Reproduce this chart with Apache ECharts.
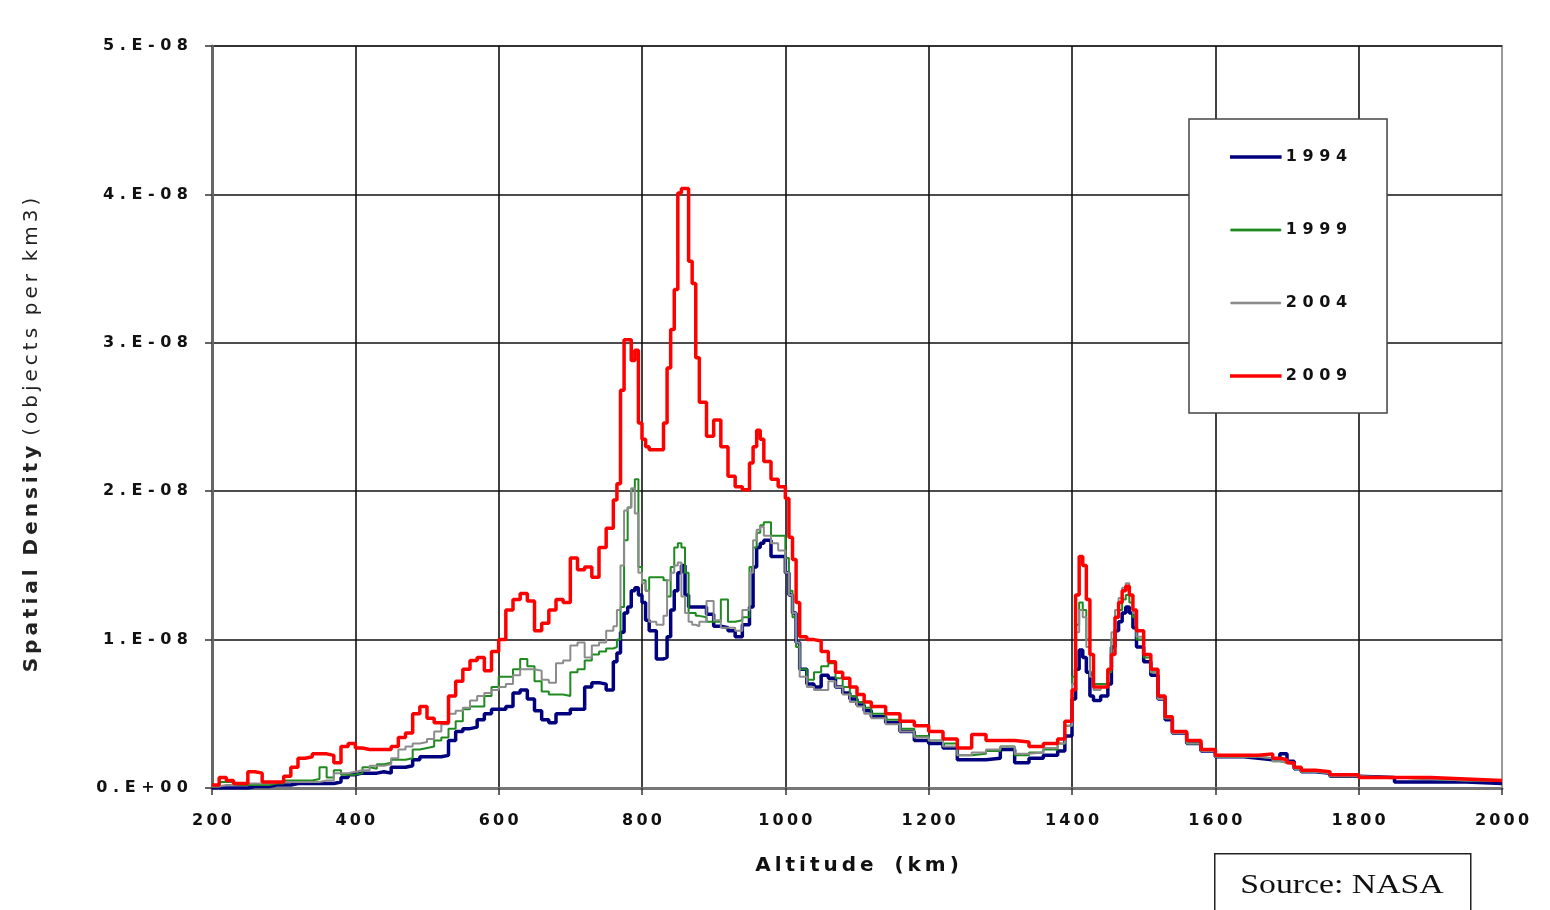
<!DOCTYPE html>
<html>
<head>
<meta charset="utf-8">
<script src="https://cdn.jsdelivr.net/npm/echarts@6/dist/echarts.min.js"></script>
<style>
  html, body { margin: 0; padding: 0; background: #fff; }
  #chart { width: 1550px; height: 910px; }
</style>
</head>
<body>
<div id="chart"></div>
<script>
// altitude (km), shared by all four series
var altitude = [200,210,220,230,240,250,260,270,280,290,
  300,310,320,330,340,350,360,370,380,390,
  400,410,420,430,440,450,460,470,480,490,
  500,510,520,530,540,550,560,570,580,590,
  600,610,620,630,640,650,660,670,680,690,
  700,710,720,730,740,750,760,765,770,775,
  780,785,790,795,800,805,810,820,830,835,
  840,845,850,855,860,865,870,875,880,890,
  900,910,920,930,940,950,955,960,965,970,
  980,990,1000,1005,1010,1015,1020,1030,1040,1050,
  1060,1070,1080,1090,1100,1110,1120,1140,1160,1180,
  1200,1220,1240,1260,1280,1300,1320,1340,1360,1380,
  1390,1400,1405,1410,1415,1420,1425,1430,1440,1450,
  1455,1460,1465,1470,1475,1480,1485,1490,1500,1510,
  1520,1530,1540,1560,1580,1600,1620,1640,1660,1680,
  1690,1700,1710,1720,1740,1760,1780,1800,1850,1900,
  1950,2000];

// spatial density, in units of 1E-08 objects per km3
var density1994 = [0,0,0,0,0,0.01,0.01,0.01,0.02,0.02,
  0.02,0.03,0.03,0.03,0.03,0.03,0.03,0.04,0.07,0.09,
  0.1,0.1,0.1,0.11,0.1,0.14,0.14,0.15,0.19,0.21,
  0.21,0.21,0.22,0.32,0.38,0.4,0.41,0.46,0.5,0.53,
  0.53,0.55,0.64,0.66,0.6,0.52,0.46,0.44,0.5,0.5,
  0.53,0.53,0.68,0.71,0.7,0.66,0.85,0.91,1.05,1.18,
  1.22,1.33,1.35,1.3,1.25,1.13,1.06,0.87,0.88,1.02,
  1.2,1.33,1.45,1.5,1.3,1.22,1.22,1.22,1.22,1.17,
  1.09,1.08,1.06,1.02,1.1,1.22,1.49,1.62,1.65,1.67,
  1.56,1.56,1.45,1.3,1.18,0.98,0.8,0.7,0.68,0.76,
  0.74,0.68,0.64,0.6,0.56,0.52,0.48,0.44,0.38,0.32,
  0.3,0.27,0.19,0.19,0.2,0.26,0.17,0.2,0.22,0.25,
  0.35,0.6,0.8,0.93,0.88,0.78,0.62,0.59,0.62,0.7,
  0.95,1.06,1.12,1.18,1.22,1.18,1.08,0.95,0.85,0.76,
  0.6,0.46,0.37,0.3,0.25,0.21,0.21,0.2,0.19,0.19,
  0.23,0.18,0.13,0.11,0.1,0.08,0.08,0.07,0.04,0.04,
  0.03,0.03];

var density1999 = [0.01,0.04,0.04,0.02,0.02,0.02,0.02,0.02,0.03,0.03,
  0.05,0.05,0.05,0.05,0.06,0.14,0.07,0.12,0.09,0.09,
  0.1,0.14,0.13,0.16,0.17,0.19,0.19,0.2,0.26,0.27,
  0.28,0.32,0.34,0.4,0.45,0.53,0.55,0.55,0.62,0.68,
  0.75,0.75,0.8,0.87,0.82,0.72,0.65,0.63,0.63,0.62,
  0.78,0.8,0.86,0.9,0.92,0.94,0.95,1.0,1.22,1.67,
  1.89,2.01,2.08,1.49,1.4,1.33,1.42,1.42,1.4,1.29,
  1.49,1.62,1.65,1.62,1.45,1.18,1.18,1.16,1.15,1.12,
  1.12,1.27,1.12,1.13,1.15,1.49,1.62,1.72,1.77,1.79,
  1.7,1.7,1.55,1.33,1.15,0.95,0.8,0.73,0.78,0.82,
  0.84,0.74,0.68,0.62,0.58,0.54,0.5,0.46,0.4,0.35,
  0.32,0.3,0.22,0.23,0.25,0.28,0.22,0.24,0.26,0.3,
  0.42,0.75,1.1,1.25,1.2,1.0,0.78,0.7,0.7,0.78,
  1.0,1.15,1.2,1.27,1.3,1.25,1.15,1.0,0.88,0.78,
  0.6,0.47,0.37,0.3,0.25,0.21,0.21,0.21,0.2,0.18,
  0.17,0.16,0.13,0.11,0.1,0.08,0.08,0.07,0.06,0.05,
  0.05,0.05];

var density2004 = [0.01,0.02,0.02,0.03,0.03,0.03,0.03,0.03,0.04,0.04,
  0.04,0.04,0.04,0.04,0.04,0.05,0.05,0.1,0.1,0.11,
  0.12,0.12,0.15,0.15,0.16,0.2,0.26,0.28,0.3,0.31,
  0.33,0.38,0.43,0.5,0.52,0.54,0.59,0.62,0.64,0.66,
  0.68,0.7,0.76,0.8,0.8,0.79,0.73,0.71,0.84,0.86,
  0.96,0.98,0.88,0.96,0.98,1.06,1.09,1.2,1.5,1.87,
  1.89,2.02,1.85,1.45,1.38,1.33,1.12,1.1,1.16,1.4,
  1.45,1.5,1.52,1.29,1.18,1.12,1.1,1.09,1.12,1.26,
  1.13,1.08,1.08,1.06,1.2,1.45,1.67,1.74,1.76,1.7,
  1.65,1.6,1.45,1.3,1.18,0.98,0.75,0.68,0.66,0.66,
  0.72,0.68,0.63,0.58,0.55,0.5,0.47,0.43,0.38,0.34,
  0.32,0.28,0.22,0.24,0.26,0.28,0.23,0.24,0.27,0.3,
  0.42,0.7,1.05,1.2,1.15,0.95,0.75,0.66,0.68,0.8,
  1.05,1.2,1.28,1.35,1.38,1.3,1.18,1.02,0.9,0.78,
  0.6,0.47,0.37,0.3,0.25,0.21,0.21,0.21,0.2,0.18,
  0.17,0.16,0.13,0.11,0.1,0.08,0.08,0.07,0.06,0.05,
  0.05,0.05];

var density2009 = [0.02,0.07,0.05,0.03,0.03,0.11,0.1,0.04,0.04,0.04,
  0.08,0.14,0.2,0.21,0.23,0.23,0.22,0.17,0.28,0.3,
  0.27,0.26,0.26,0.26,0.26,0.28,0.34,0.37,0.5,0.55,
  0.47,0.44,0.44,0.62,0.72,0.8,0.86,0.88,0.79,0.92,
  1.0,1.2,1.27,1.31,1.26,1.06,1.11,1.2,1.27,1.25,
  1.55,1.47,1.49,1.42,1.62,1.75,1.94,2.05,2.68,3.02,
  3.02,2.88,2.95,2.46,2.35,2.3,2.28,2.28,2.46,2.83,
  3.09,3.36,4.01,4.04,4.04,3.55,3.4,2.9,2.6,2.37,
  2.48,2.3,2.1,2.03,2.01,2.19,2.3,2.41,2.35,2.2,
  2.08,2.03,1.95,1.69,1.54,1.25,1.02,1.0,0.99,0.92,
  0.85,0.78,0.74,0.68,0.63,0.58,0.55,0.5,0.45,0.42,
  0.38,0.33,0.27,0.36,0.32,0.32,0.31,0.28,0.3,0.33,
  0.45,0.66,1.3,1.56,1.5,1.27,0.9,0.68,0.68,0.8,
  0.9,1.15,1.25,1.33,1.36,1.3,1.2,1.06,0.9,0.8,
  0.62,0.48,0.38,0.32,0.26,0.22,0.22,0.22,0.23,0.2,
  0.19,0.17,0.14,0.12,0.11,0.09,0.09,0.07,0.07,0.06,
  0.05,0.05];

var years = ['1994', '1999', '2004', '2009'];
var colors = ['#00007f', '#1f8a1f', '#8c8c8c', '#ff0000'];
var widths = [3.5, 2, 2, 3.5];
var seriesValues = [density1994, density1999, density2004, density2009];

function spaced(s) {
  return String(s).split('').join(' ');
}
function thin(s) {
  return String(s).split('').join('\u2009');
}

var chart = echarts.init(document.getElementById('chart'));

var series = years.map(function (y, k) {
  return {
    name: y,
    type: 'line',
    step: 'end',
    symbol: 'none',
    color: colors[k],
    lineStyle: { color: colors[k], width: widths[k] },
    data: altitude.map(function (a, i) { return [a, seriesValues[k][i]]; })
  };
});

var option = {
  animation: false,
  backgroundColor: '#fff',
  grid: {
    left: 212, right: 48, top: 46, bottom: 122,
    show: true, borderColor: '#9a9a9a', borderWidth: 2
  },
  legend: {
    orient: 'vertical',
    left: 1189, top: 119,
    padding: [30, 40, 29, 41],
    itemGap: 57,
    itemWidth: 50,
    itemHeight: 14,
    icon: 'path://M0,6 L50,6 L50,8 L0,8 Z',
    backgroundColor: '#fff',
    borderColor: '#444',
    borderWidth: 1.5,
    formatter: spaced,
    textStyle: { fontFamily: 'DejaVu Sans', fontWeight: 'bold', fontSize: 16, color: '#111' },
    data: [
      { name: '1994', itemStyle: { color: colors[0], borderColor: colors[0], borderWidth: 1.6 } },
      { name: '1999', itemStyle: { color: colors[1], borderColor: colors[1], borderWidth: 0.8 } },
      { name: '2004', itemStyle: { color: colors[2], borderColor: colors[2], borderWidth: 0.6 } },
      { name: '2009', itemStyle: { color: colors[3], borderColor: colors[3], borderWidth: 1.6 } }
    ]
  },
  xAxis: {
    type: 'value',
    min: 200, max: 2000, interval: 200,
    name: 'A\u2009l\u2009t\u2009i\u2009t\u2009u\u2009d\u2009e   (\u2009k\u2009m\u2009)',
    nameLocation: 'middle',
    nameGap: 68,
    nameTextStyle: { fontFamily: 'DejaVu Sans', fontWeight: 'bold', fontSize: 20, color: '#111' },
    axisLine: { lineStyle: { color: '#777', width: 3 } },
    axisTick: { show: true, length: 7, lineStyle: { color: '#333', width: 1.5 } },
    axisLabel: {
      margin: 25,
      formatter: thin,
      fontFamily: 'DejaVu Sans', fontWeight: 'bold', fontSize: 16, color: '#111'
    },
    splitLine: { show: true, showMinLine: false, showMaxLine: false, lineStyle: { color: '#111', width: 1.6 } }
  },
  yAxis: {
    type: 'value',
    min: 0, max: 5, interval: 1,
    name: '{b|S\u2009p\u2009a\u2009t\u2009i\u2009a\u2009l  D\u2009e\u2009n\u2009s\u2009i\u2009t\u2009y}   {n|(\u2009o\u2009b\u2009j\u2009e\u2009c\u2009t\u2009s  p\u2009e\u2009r  k\u2009m\u20093\u2009)}',
    nameLocation: 'middle',
    nameGap: 170,
    nameTextStyle: {
      padding: [0, 36, 0, 0],
      rich: {
        b: { fontFamily: 'DejaVu Sans', fontWeight: 'bold', fontSize: 20, color: '#222' },
        n: { fontFamily: 'DejaVu Sans', fontSize: 20, color: '#222' }
      }
    },
    axisLine: { show: true, lineStyle: { color: '#666', width: 3 } },
    axisTick: { show: true, length: 7, lineStyle: { color: '#333', width: 1.5 } },
    axisLabel: {
      margin: 24,
      formatter: function (v) { return spaced(v === 0 ? '0.E+00' : v + '.E-08'); },
      fontFamily: 'DejaVu Sans', fontWeight: 'bold', fontSize: 16, color: '#111'
    },
    splitLine: { show: true, showMinLine: false, lineStyle: { color: '#111', width: 1.6 } }
  },
  graphic: [
    {
      type: 'rect',
      left: 1214, top: 853,
      shape: { width: 256, height: 62 },
      style: { fill: '#fff', stroke: '#222', lineWidth: 1.5 }
    },
    {
      type: 'text',
      x: 1342, y: 886,
      scaleX: 1.25,
      style: {
        text: 'Source: NASA',
        font: '27px "Liberation Serif"',
        fill: '#111',
        align: 'center',
        verticalAlign: 'middle'
      }
    }
  ],
  series: series
};

chart.setOption(option);
</script>
</body>
</html>
